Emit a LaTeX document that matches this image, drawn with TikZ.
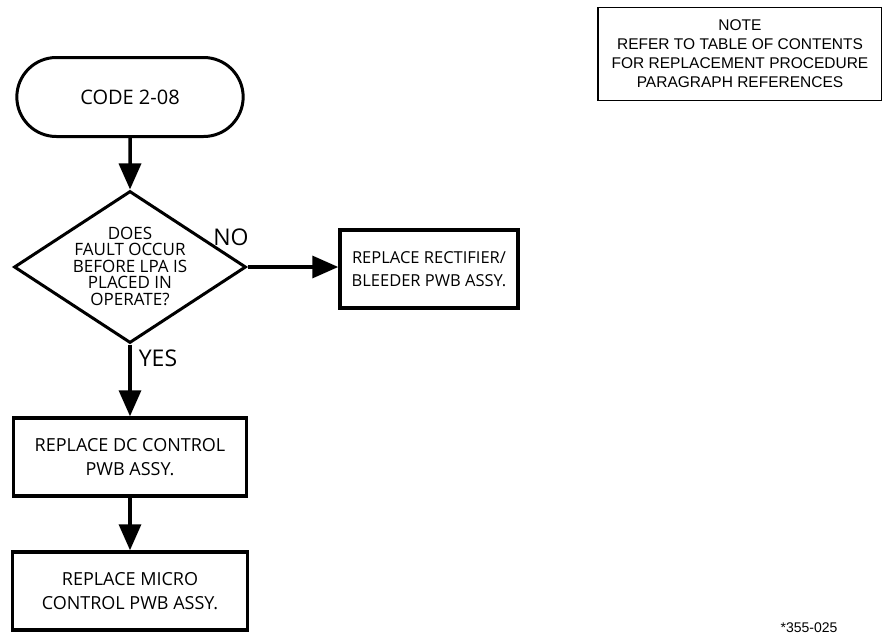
\documentclass[tikz,border=0pt]{standalone}
\usepackage{fontspec}
\setmainfont{Open Sans}
\newfontfamily\notefont{Liberation Sans}
\usetikzlibrary{arrows.meta,positioning,shapes.geometric,shapes.misc}
\tikzset{term/.style={draw,line width=3pt,rounded rectangle,minimum width=233pt,minimum height=79pt,font=\fontsize{20}{24}\selectfont},decision/.style={draw,line width=3pt,diamond,minimum width=232pt,minimum height=152pt,inner sep=0pt},dectxt/.style={align=center,inner sep=0pt,font=\fontsize{17}{16.5}\selectfont},action/.style={draw,line width=3.5pt,minimum height=78pt,align=center,font=\fontsize{18}{24}\selectfont},arr/.style={-{Triangle[length=26pt,width=22pt]},line width=3.5pt},lab/.style={inner sep=0pt,font=\fontsize{23}{25}\selectfont},note/.style={draw,line width=1.3pt,align=center,font=\notefont\fontsize{15.5}{19}\selectfont}}
\begin{document}
\begin{tikzpicture}[x=1pt,y=-1pt]
\useasboundingbox (0,0) rectangle (882,634);
\node[term] (code) at (130,97) {CODE 2-08};
\node[decision] (fault) at (130,267) {};
\node[dectxt] (faulttxt) at (130,266) {DOES\\FAULT OCCUR\\BEFORE LPA IS\\PLACED IN\\OPERATE?};
\node[action,minimum width=178pt,font=\fontsize{16.5}{23}\selectfont] (rectif) at (429,269) {REPLACE RECTIFIER/\\BLEEDER PWB ASSY.};
\node[action,minimum width=233pt] (dcctrl) at (130,457) {REPLACE DC CONTROL\\PWB ASSY.};
\node[action,minimum width=235pt] (micro) at (130,591) {REPLACE MICRO\\CONTROL PWB ASSY.};
\node[lab] (no) at (231,237) {NO};
\node[lab] (yes) at (158,358) {YES};
\draw[arr] (code) -- (fault);
\draw[arr] (fault.east) -- (fault.east -| rectif.west);
\draw[arr] (fault) -- (dcctrl);
\draw[arr] (dcctrl) -- (micro);
\node[note,minimum width=284pt,minimum height=93pt] (note) at (740,54) {NOTE\\REFER TO TABLE OF CONTENTS\\FOR REPLACEMENT PROCEDURE\\PARAGRAPH REFERENCES};
\node[anchor=base,inner sep=0pt,font=\notefont\fontsize{14}{16}\selectfont] (drawno) at (809,632) {*355-025};
\end{tikzpicture}
\end{document}
